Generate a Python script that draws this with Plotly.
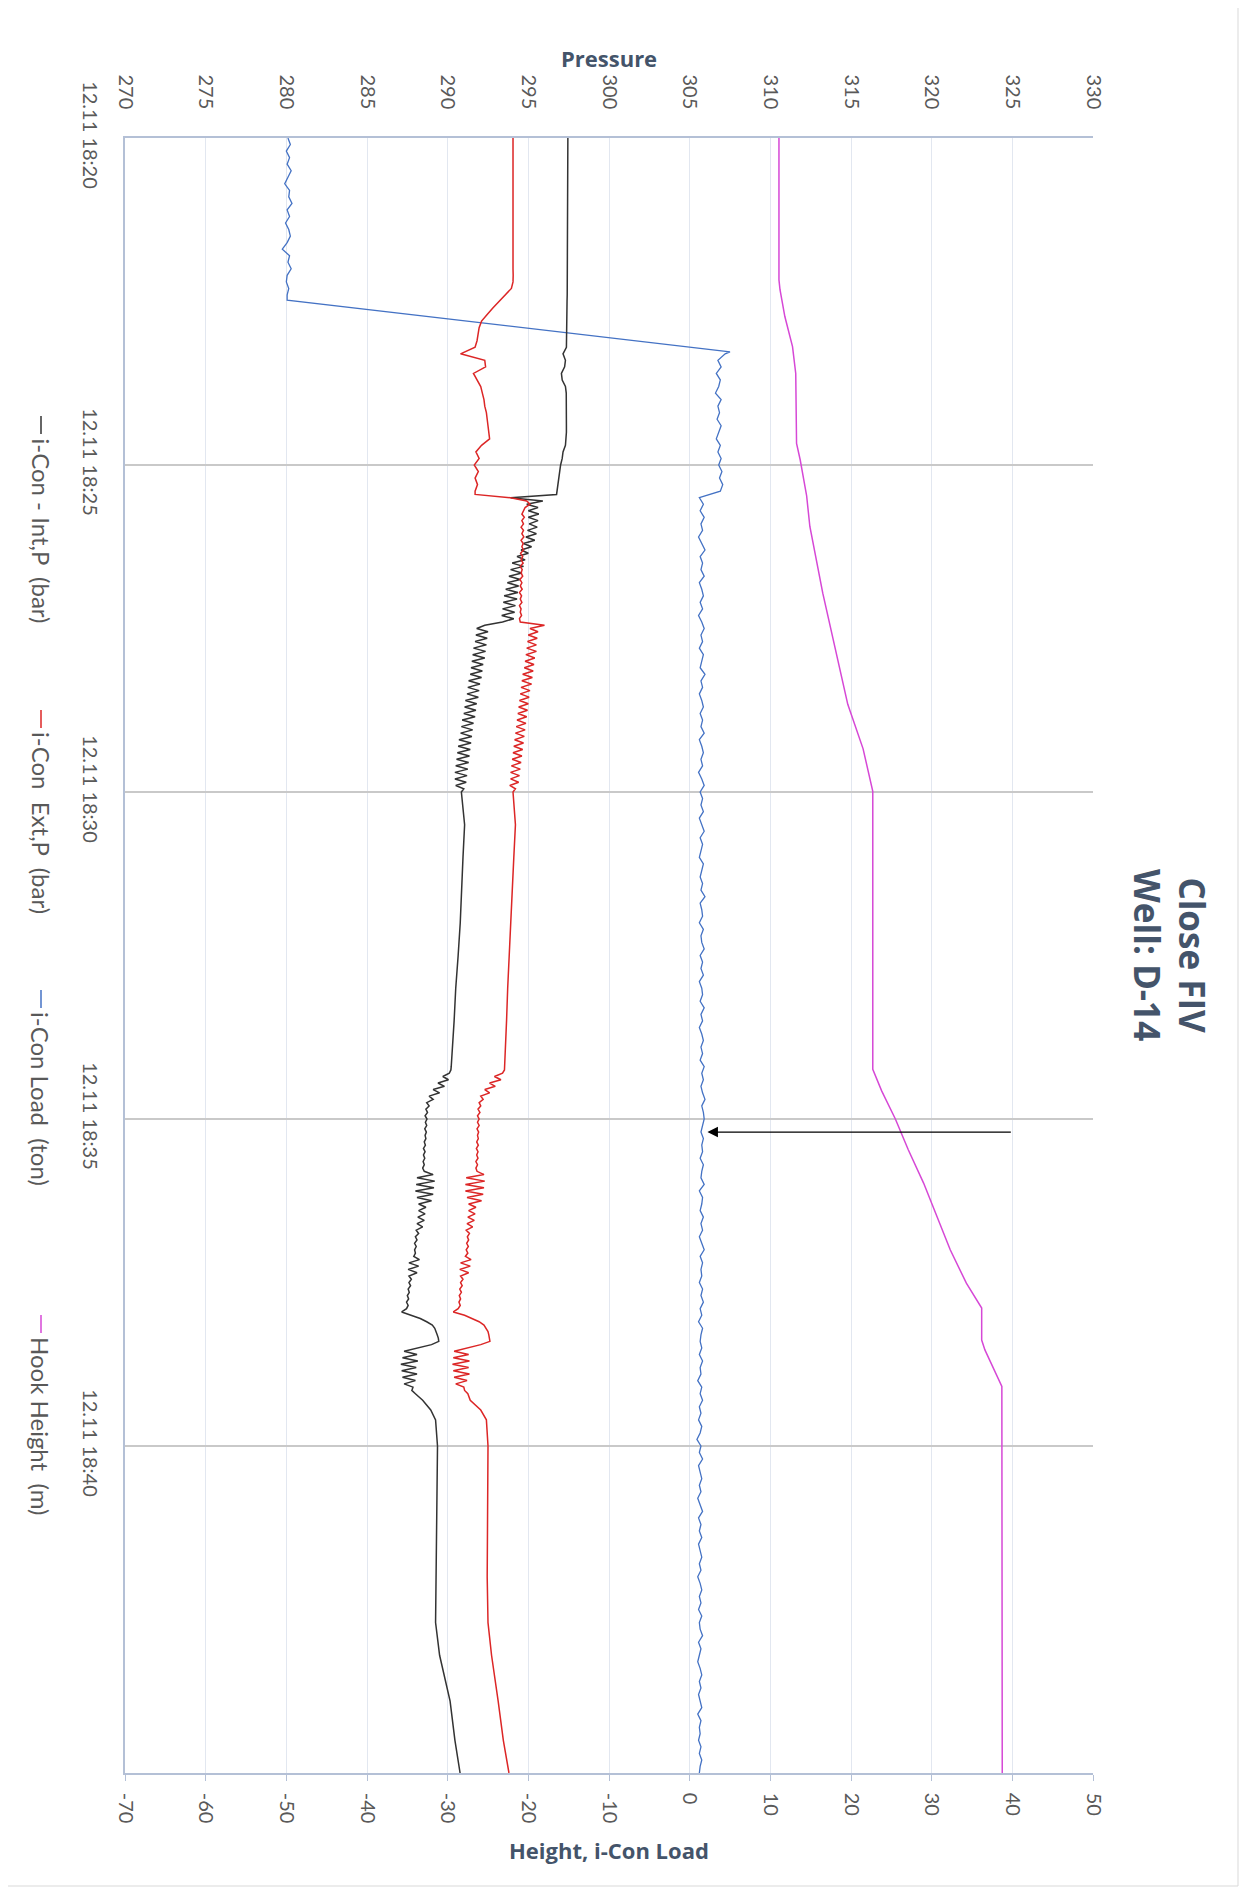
import numpy as np
import pandas as pd
import plotly.graph_objects as go

# time axis: minutes after 12.11 18:20
BASE = pd.Timestamp("2011-11-12 18:20:00")

# ---- pressure channels (bar), shared sampling grid ----
t_press = np.concatenate([
    [0.0, 0.5, 1.0, 1.5, 2.0],
    np.linspace(2.1, 5.4, 34),
    np.linspace(5.45, 10.0, 92),
    [10.5, 11.0, 11.5, 12.0, 12.5, 13.0, 13.5, 14.0],
    np.linspace(14.05, 19.2, 104),
    [19.3, 19.45, 19.6, 20.0, 21.0, 22.0, 22.7, 23.2, 23.9, 24.5, 25.0],
])

int_p = [
    297.45, 297.45, 297.44, 297.43, 297.42,
    # 2.1 - 5.4
    297.42, 297.42, 297.41, 297.41, 297.40, 297.40, 297.40, 297.39, 297.38, 297.38,
    297.37, 297.36, 297.15, 297.30, 297.25, 297.05, 297.10, 297.30, 297.35, 297.36,
    297.36, 297.37, 297.37, 297.36, 297.36, 297.35, 297.30, 297.15, 297.10, 297.00,
    296.95, 296.90, 296.85, 296.80,
    # 5.45 - 10.0
    296.75, 293.9, 295.9, 294.9, 295.6, 295.0, 295.65, 295.0, 295.6, 295.05,
    295.55, 294.95, 295.5, 294.85, 295.4, 294.7, 295.2, 294.55, 295.0, 294.3,
    294.8, 294.0, 294.7, 293.9, 294.6, 293.8, 294.5, 293.7, 294.4, 293.6,
    294.35, 293.5, 294.3, 293.45, 294.2, 293.4, 294.15, 293.35, 294.1, 293.4,
    292.3, 291.8, 292.5, 291.75, 292.45, 291.7, 292.4, 291.6, 292.35, 291.55,
    292.3, 291.5, 292.2, 291.45, 292.15, 291.4, 292.1, 291.3, 292.0, 291.25,
    291.95, 291.2, 291.9, 291.1, 291.8, 291.05, 291.75, 291.0, 291.7, 290.9,
    291.6, 290.85, 291.55, 290.8, 291.5, 290.7, 291.45, 290.65, 291.4, 290.6,
    291.35, 290.55, 291.3, 290.5, 291.25, 290.45, 291.2, 290.45, 291.15, 290.5,
    291.0, 290.85,
    # 10.5 - 14.0
    291.05, 290.95, 290.87, 290.78, 290.65, 290.5, 290.4, 290.3,
    # 14.05 - 19.2
    290.25, 290.25, 290.24, 290.22, 290.2, 290.1, 289.7, 290.05, 289.4, 289.8,
    289.1, 289.5, 288.85, 289.1, 288.7, 288.85, 288.65, 288.75, 288.6, 288.72,
    288.62, 288.7, 288.58, 288.68, 288.6, 288.65, 288.55, 288.62, 288.5, 288.6,
    288.5, 288.58, 288.48, 288.55, 288.45, 288.55, 289.1, 288.1, 289.2, 288.05,
    289.15, 288.0, 289.1, 288.1, 289.0, 288.2, 288.65, 288.2, 288.6, 288.15,
    288.55, 288.1, 288.45, 288.05, 288.2, 288.0, 288.1, 287.95, 288.05, 287.95,
    288.0, 287.9, 288.25, 287.6, 288.2, 287.55, 288.1, 287.6, 287.75, 287.6,
    287.7, 287.55, 287.62, 287.5, 287.58, 287.45, 287.55, 287.45, 287.15, 287.7,
    288.3, 288.7, 289.05, 289.2, 289.3, 289.35, 289.42, 289.45, 289.0, 288.2,
    287.3, 288.1, 287.2, 288.15, 287.1, 288.05, 287.15, 288.1, 287.2, 288.0,
    287.3, 287.85, 287.78, 288.0,
    # 19.3 - 25.0
    288.45, 288.95, 289.25, 289.37, 289.32, 289.25, 289.25, 289.5, 290.15, 290.45, 290.77,
]

ext_p = [
    294.05, 294.04, 294.06, 294.04, 294.05,
    # 2.1 - 5.4
    294.06, 294.05, 293.95, 293.55, 293.15, 292.8, 292.45, 292.1, 291.95, 291.9,
    291.82, 291.7, 290.8, 292.3, 292.35, 291.6, 291.8, 292.05, 292.15, 292.25,
    292.3, 292.4, 292.45, 292.5, 292.55, 292.6, 292.1, 291.75, 291.95, 291.65,
    291.9, 291.7, 291.85, 291.7,
    # 5.45 - 10.0
    291.7, 293.9, 294.9, 295.1, 294.8, 294.7, 294.6, 294.75, 294.6, 294.7,
    294.55, 294.7, 294.6, 294.72, 294.55, 294.68, 294.6, 294.7, 294.52, 294.65,
    294.55, 294.68, 294.5, 294.62, 294.55, 294.65, 294.48, 294.6, 294.5, 294.62,
    294.45, 294.58, 294.5, 294.6, 294.45, 294.55, 294.5, 294.58, 294.45, 294.5,
    296.0, 295.1, 295.6, 295.0, 295.55, 294.95, 295.5, 294.9, 295.5, 294.85,
    295.4, 294.8, 295.35, 294.75, 295.3, 294.65, 295.25, 294.6, 295.2, 294.55,
    295.1, 294.5, 295.05, 294.45, 295.0, 294.4, 294.95, 294.35, 294.9, 294.3,
    294.85, 294.25, 294.8, 294.2, 294.75, 294.15, 294.7, 294.1, 294.65, 294.05,
    294.6, 294.0, 294.55, 293.95, 294.5, 293.9, 294.45, 293.9, 294.4, 293.85,
    294.2, 294.05,
    # 10.5 - 14.0
    294.2, 294.1, 294.0, 293.9, 293.8, 293.72, 293.65, 293.57,
    # 14.05 - 19.2
    293.55, 293.55, 293.54, 293.53, 293.52, 293.4, 292.9, 293.3, 292.6, 292.95,
    292.3, 292.6, 292.05, 292.2, 291.95, 292.05, 291.88, 292.0, 291.85, 291.95,
    291.85, 291.95, 291.82, 291.92, 291.85, 291.9, 291.8, 291.9, 291.78, 291.88,
    291.8, 291.88, 291.75, 291.85, 291.75, 291.82, 292.25, 291.15, 292.3, 291.1,
    292.25, 291.1, 292.2, 291.2, 292.1, 291.3, 291.75, 291.3, 291.7, 291.25,
    291.65, 291.2, 291.55, 291.15, 291.35, 291.22, 291.3, 291.18, 291.28, 291.15,
    291.25, 291.1, 291.45, 290.8, 291.4, 290.75, 291.3, 290.8, 290.95, 290.8,
    290.9, 290.75, 290.85, 290.72, 290.8, 290.7, 290.78, 290.65, 290.35, 291.05,
    291.5, 291.95, 292.25, 292.4, 292.5, 292.55, 292.6, 292.62, 292.05, 291.3,
    290.4, 291.3, 290.35, 291.35, 290.3, 291.3, 290.35, 291.35, 290.4, 291.2,
    290.5, 291.0, 291.05, 291.25,
    # 19.3 - 25.0
    291.4, 292.05, 292.4, 292.5, 292.48, 292.45, 292.5, 292.72, 293.13, 293.45, 293.8,
]

# ---- i-Con load (ton) ----
t_load = np.concatenate([
    np.linspace(0.0, 2.4, 25),
    [2.48, 3.27],
    np.linspace(3.3, 5.4, 22),
    np.linspace(5.5, 25.0, 196),
])
load = [
    -49.8, -49.5, -50.0, -49.6, -49.9, -49.4, -49.8, -50.2, -49.6, -49.7,
    -49.3, -49.9, -49.6, -50.1, -49.7, -49.5, -49.9, -50.5, -49.6, -49.8,
    -49.4, -49.9, -50.0, -49.7, -49.9,
    -49.9, 5.0,
    4.4, 3.5, 3.9, 3.3, 3.8, 3.6, 3.2, 3.9, 3.5, 3.7,
    3.4, 3.9, 3.6, 3.3, 3.8, 3.5, 3.9, 3.6, 4.0, 3.7,
    4.1, 3.8,
    1.2, 1.7, 1.3, 1.8, 1.4, 1.6, 1.1, 1.5, 1.9, 1.3,
    1.6, 1.4, 1.8, 1.2, 1.5, 1.7, 1.3, 1.6, 1.1, 1.5,
    1.8, 1.4, 1.6, 1.2, 1.7, 1.5, 1.3, 1.9, 1.4, 1.6,
    1.2, 1.5, 1.7, 1.3, 1.6, 1.4, 1.8, 1.2, 1.5, 1.7,
    1.4, 1.6, 1.1, 1.5, 1.8, 1.3, 1.6, 1.4, 1.7, 1.2,
    1.5, 1.8, 1.3, 1.6, 1.4, 1.2, 1.7, 1.5, 1.3, 1.6,
    1.4, 1.9, 1.3, 1.5, 1.6, 1.2, 1.7, 1.4, 1.5, 1.8,
    1.3, 1.6, 1.4, 1.7, 1.2, 1.5, 1.6, 1.3, 1.8, 1.4,
    1.6, 1.2, 1.5, 1.7, 1.4, 1.6, 1.3, 1.8, 1.5, 1.7,
    1.4, 1.6, 1.9, 1.5, 1.7, 1.8, 1.6, 1.4, 1.7, 1.5,
    1.6, 1.3, 1.7, 1.5, 1.4, 1.8, 1.2, 1.6, 1.5, 1.3,
    1.7, 1.4, 1.6, 1.2, 1.5, 1.8, 1.3, 1.6, 1.4, 1.5,
    1.2, 1.6, 1.4, 1.7, 1.3, 1.5, 1.1, 1.6, 1.4, 1.3,
    1.5, 1.2, 1.6, 1.3, 1.4, 1.0, 1.5, 1.3, 1.6, 1.2,
    1.4, 1.1, 1.5, 1.3, 0.9, 1.4, 1.2, 1.6, 1.1, 1.3,
    1.5, 1.2, 1.4, 1.0, 1.3, 1.6, 1.1, 1.4, 1.2, 1.5,
    1.1, 1.3, 1.5, 1.2, 1.4, 1.0, 1.3, 1.5, 1.2, 1.4,
    1.1, 1.5, 1.2, 1.3, 1.6, 1.1, 1.4, 1.2, 1.0, 1.3,
    1.5, 1.2, 1.4, 1.1, 1.3, 1.5, 1.0, 1.4, 1.2, 1.3,
    1.1, 1.4, 1.2, 1.5, 1.3, 1.2,
]

# ---- hook height (m) ----
t_hook = [0.0, 2.17, 2.32, 2.73, 3.19, 3.6, 4.67, 4.92, 5.47, 5.94, 6.96, 7.98, 8.66, 9.34,
          9.99, 14.24, 14.57, 15.0, 15.47, 15.98, 16.49, 17.0, 17.51, 17.89, 18.38, 18.53,
          19.09, 25.0]
hook = [11.07, 11.07, 11.2, 11.8, 12.75, 13.15, 13.25, 13.7, 14.5, 14.9, 16.5, 18.4, 19.6, 21.5,
        22.7, 22.7, 23.8, 25.5, 27.1, 29.0, 30.6, 32.3, 34.3, 36.2, 36.2, 36.6,
        38.7, 38.75]

assert len(int_p) == len(t_press) and len(ext_p) == len(t_press)
assert len(load) == len(t_load) and len(hook) == len(t_hook)

time_ticks = [0, 5, 10, 15, 20]
press_ticks = list(range(270, 331, 5))
height_ticks = list(range(-70, 51, 10))
arrow_t, arrow_tip, arrow_tail = 15.2, 2.2, 40

NB = "\u00a0"
series = [
    ("i-Con - Int,P" + NB * 2 + "(bar)", "#333333"),
    ("i-Con" + NB * 2 + "Ext,P" + NB * 2 + "(bar)", "#dc2626"),
    ("i-Con Load" + NB * 2 + "(ton)", "#4472c4"),
    ("Hook Height" + NB * 2 + "(m)", "#d648d6"),
]


def to_time(minutes):
    return BASE + pd.to_timedelta(np.asarray(minutes, dtype=float), unit="m")


def tstr(minutes):
    return (BASE + pd.Timedelta(minutes=minutes)).strftime("%Y-%m-%d %H:%M:%S")


# page coordinates of the plot area; the page body adds an 8px offset
OFF = 8
W, H = 1249 - OFF, 1893 - OFF
L, R, T, B = 125, 1093, 138, 1773


def px(x):
    return (x - L) / (R - L)


def py(y):
    return (B - y) / (B - T)


TICKFONT = dict(family="Lato, sans-serif", size=20, color="#595959")
TITLECOL = "#44546a"

fig = go.Figure()
fig.add_trace(go.Scatter(x=load, y=to_time(t_load), mode="lines", name=series[2][0],
                         line=dict(color=series[2][1], width=1.3)))
fig.add_trace(go.Scatter(x=hook, y=to_time(t_hook), mode="lines", name=series[3][0],
                         line=dict(color=series[3][1], width=1.5)))
fig.add_trace(go.Scatter(x=int_p, y=to_time(t_press), xaxis="x2", mode="lines", name=series[0][0],
                         line=dict(color=series[0][1], width=1.5)))
fig.add_trace(go.Scatter(x=ext_p, y=to_time(t_press), xaxis="x2", mode="lines", name=series[1][0],
                         line=dict(color=series[1][1], width=1.5)))

annotations = [
    dict(x=arrow_tip, y=tstr(arrow_t), ax=arrow_tail, ay=tstr(arrow_t), xref="x", yref="y",
         axref="x", ayref="y", text="", showarrow=True, arrowhead=2, arrowsize=1.5,
         arrowwidth=1.4, arrowcolor="black"),
    dict(x=px(1170), y=py(955), xref="paper", yref="paper", showarrow=False, textangle=90,
         text="<b>Close FIV</b><br><b>Well: D-14</b>", xanchor="center", yanchor="middle",
         font=dict(family="Open Sans, sans-serif", size=35, color=TITLECOL)),
    dict(x=0.5, y=py(58), xref="paper", yref="paper", showarrow=False, text="<b>Pressure</b>",
         xanchor="center", yanchor="middle",
         font=dict(family="Open Sans, sans-serif", size=22, color=TITLECOL)),
    dict(x=0.5, y=py(1850), xref="paper", yref="paper", showarrow=False,
         text="<b>Height, i-Con Load</b>", xanchor="center", yanchor="middle",
         font=dict(family="Open Sans, sans-serif", size=22, color=TITLECOL)),
]

shapes = [
    dict(type="rect", xref="paper", yref="paper", x0=px(6), x1=px(1238), y0=py(1886), y1=py(7),
         line=dict(color="#d9d9d9", width=1), layer="below"),
]

# rotated legend down the left edge
legend_y = [416, 710, 990, 1315]
for (name, col), y0 in zip(series, legend_y):
    shapes.append(dict(type="line", xref="paper", yref="paper", x0=px(41), x1=px(41),
                       y0=py(y0), y1=py(y0 + 18), line=dict(color=col, width=1.5)))
    annotations.append(dict(x=px(41), y=py(y0 + 20), xref="paper", yref="paper", showarrow=False,
                            text=name, textangle=90, xanchor="center", yanchor="top",
                            font=dict(family="Lato, sans-serif", size=24, color="#595959")))

axis_line = "#b4c0d6"
fig.update_layout(
    width=W, height=H,
    margin=dict(l=L - OFF, r=W - (R - OFF), t=T - OFF, b=H - (B - OFF)),
    paper_bgcolor="white", plot_bgcolor="white",
    showlegend=False,
    xaxis=dict(range=[-70, 50], tickvals=height_ticks, ticktext=[str(v) for v in height_ticks],
               tickangle=90, tickfont=TICKFONT, showgrid=True, gridcolor="#e2e7f0", gridwidth=1,
               zeroline=False, showline=True, linecolor=axis_line, linewidth=1.5,
               ticks="outside", ticklen=6, tickcolor=axis_line, ticklabelstandoff=8),
    xaxis2=dict(range=[270, 330], tickvals=press_ticks, ticktext=[str(v) for v in press_ticks],
                overlaying="x", side="top", anchor="y", tickangle=90, tickfont=TICKFONT,
                showgrid=False, zeroline=False, showline=True, linecolor=axis_line, linewidth=1.5,
                ticks="", ticklabelstandoff=20),
    yaxis=dict(type="date", range=[tstr(25), tstr(0)], tickvals=[tstr(m) for m in time_ticks],
               tickformat="%d.%m %H:%M", tickangle=90, tickfont=TICKFONT, showgrid=True,
               gridcolor="#c9c9c9", gridwidth=1.5, zeroline=False, showline=True,
               linecolor=axis_line, linewidth=1.5, ticks="", ticklabelstandoff=16),
    annotations=annotations,
    shapes=shapes,
)

fig.write_html("out.html")
